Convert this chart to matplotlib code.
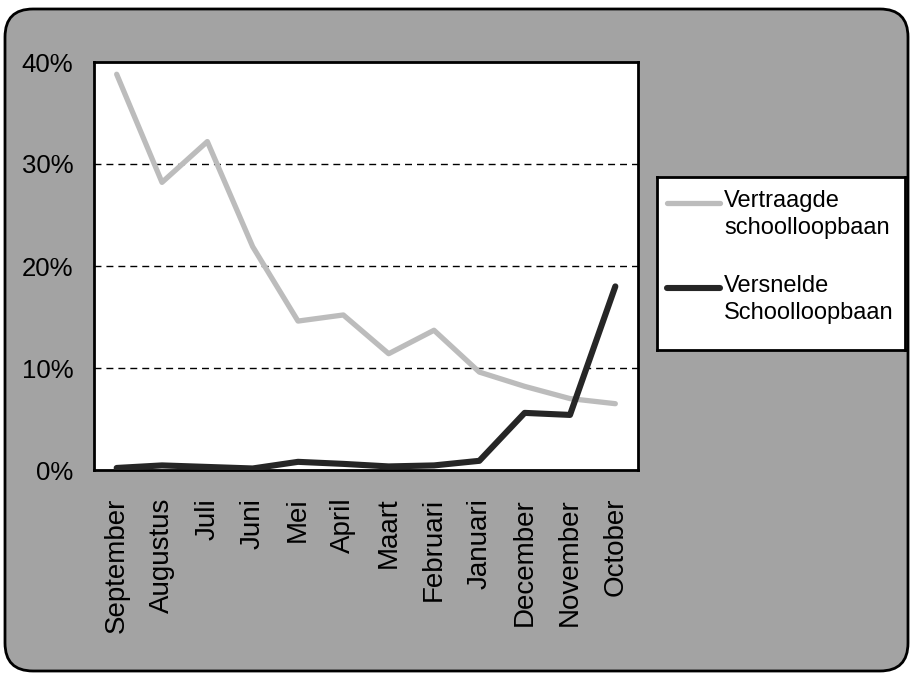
import numpy as np
import matplotlib
matplotlib.use('Agg')
import matplotlib.pyplot as plt
from matplotlib import font_manager
from matplotlib.patches import FancyBboxPatch
from matplotlib.lines import Line2D


maanden = ['September', 'Augustus', 'Juli', 'Juni', 'Mei', 'April', 'Maart',
           'Februari', 'Januari', 'December', 'November', 'October']

# percentages per maand
vertraagd = [38.8, 28.2, 32.2, 21.9, 14.6, 15.2, 11.4, 13.7, 9.6, 8.2, 7.0, 6.5]
versneld = [0.2, 0.45, 0.3, 0.15, 0.8, 0.6, 0.35, 0.45, 0.9, 5.6, 5.4, 18.0]

reeks_namen = ['Vertraagde\nschoolloopbaan', 'Versnelde\nSchoolloopbaan']
y_ticks = [0, 10, 20, 30, 40]
y_labels = ['0%', '10%', '20%', '30%', '40%']

licht = '#bcbcbc'
donker = '#262626'
achtergrond = '#a3a3a3'

# narrow sans if we have it, otherwise regular
namen = {f.name for f in font_manager.fontManager.ttflist}
if 'Liberation Sans Narrow' in namen:
    fam, fs_x, fs_y, fs_leg = 'Liberation Sans Narrow', 20, 20, 20
else:
    fam, fs_x, fs_y, fs_leg = 'Liberation Sans', 20, 18.5, 17
plt.rcParams['font.family'] = [fam, 'DejaVu Sans']

W, H = 913, 675
fig = plt.figure(figsize=(W / 100, H / 100), dpi=100, facecolor='white')

# background panel with rounded border, in pixel units
bg = fig.add_axes([0, 0, 1, 1], zorder=0)
bg.set_xlim(0, W)
bg.set_ylim(H, 0)
bg.axis('off')
bg.add_patch(FancyBboxPatch((5, 9), 903, 662,
                            boxstyle='round,pad=0,rounding_size=28',
                            facecolor=achtergrond, edgecolor='black', linewidth=2))

# main chart
ax = fig.add_axes([94 / W, 1 - 470 / H, (638 - 94) / W, (470 - 62) / H], zorder=2)
ax.set_facecolor('white')
x = np.arange(len(maanden))
ax.plot(x, vertraagd, color=licht, lw=3.8, solid_joinstyle='round',
        solid_capstyle='round', zorder=3)
ax.plot(x, versneld, color=donker, lw=4.4, solid_joinstyle='round',
        solid_capstyle='round', zorder=4)

ax.set_xlim(-0.5, len(maanden) - 0.5)
ax.set_ylim(0, 40)
ax.set_yticks(y_ticks)
ax.set_yticklabels(y_labels, fontsize=fs_y)
ax.set_xticks(x)
ax.set_xticklabels(maanden, rotation=90, fontsize=fs_x)
ax.tick_params(axis='x', length=0, pad=20)
ax.tick_params(axis='y', length=0, pad=15)
for g in y_ticks[1:-1]:
    ax.axhline(g, color='black', lw=1, linestyle=(0, (5, 3.6)), zorder=1)
for s in ax.spines.values():
    s.set_linewidth(2)
    s.set_color('black')

# legend box drawn by hand so the handle sits on the first text line
lg = fig.add_axes([657 / W, 1 - 350 / H, (905 - 657) / W, (350 - 177) / H], zorder=2)
lg.set_xlim(657, 905)
lg.set_ylim(350, 177)
lg.set_facecolor('white')
lg.set_xticks([])
lg.set_yticks([])
for s in lg.spines.values():
    s.set_linewidth(2)
    s.set_color('black')
for naam, kleur, lw, yh in [(reeks_namen[0], licht, 3.8, 203),
                            (reeks_namen[1], donker, 4.4, 288)]:
    lg.add_line(Line2D([667, 720], [yh, yh], color=kleur, lw=lw,
                       solid_capstyle='round'))
    lg.text(724, yh - 13, naam, fontsize=fs_leg, va='top', ha='left',
            linespacing=1.3)

fig.savefig('out.png', dpi=100, facecolor='white')
